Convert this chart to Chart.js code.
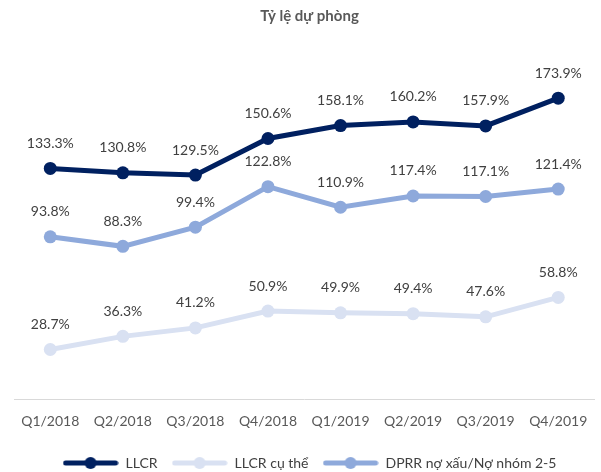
<!DOCTYPE html>
<html>
<head>
<meta charset="utf-8">
<script src="https://cdn.jsdelivr.net/npm/chart.js@4"></script>
<style>
  html, body { margin: 0; padding: 0; background: #fff; }
  #wrap { width: 601px; height: 472px; }
</style>
</head>
<body>
<div id="wrap"><canvas id="c" width="601" height="472"></canvas></div>
<script>
// Dữ liệu
const quarters = ["Q1/2018", "Q2/2018", "Q3/2018", "Q4/2018", "Q1/2019", "Q2/2019", "Q3/2019", "Q4/2019"];
const llcr = [133.3, 130.8, 129.5, 150.6, 158.1, 160.2, 157.9, 173.9];
const llcrCuThe = [28.7, 36.3, 41.2, 50.9, 49.9, 49.4, 47.6, 58.8];
const dprr = [93.8, 88.3, 99.4, 122.8, 110.9, 117.4, 117.1, 121.4];

const FONT = "Lato, 'Noto Sans', sans-serif";

// Ký hiệu chú giải: đường kẻ + chấm tròn
function legendIcon(color) {
  const c = document.createElement("canvas");
  c.width = 56; c.height = 14;
  const g = c.getContext("2d");
  g.strokeStyle = color; g.lineWidth = 5; g.lineCap = "round";
  g.beginPath(); g.moveTo(3, 7); g.lineTo(53, 7); g.stroke();
  g.fillStyle = color;
  g.beginPath(); g.arc(28, 7, 6, 0, Math.PI * 2); g.fill();
  return c;
}

// Nhãn giá trị phía trên mỗi điểm
const valueLabels = {
  id: "valueLabels",
  afterDatasetsDraw(chart) {
    const ctx = chart.ctx;
    ctx.save();
    ctx.font = "14px " + FONT;
    ctx.fillStyle = "#404040";
    ctx.textAlign = "center";
    ctx.textBaseline = "bottom";
    chart.data.datasets.forEach((ds, i) => {
      chart.getDatasetMeta(i).data.forEach((pt, j) => {
        ctx.fillText(ds.data[j].toFixed(1) + "%", pt.x, pt.y - 18);
      });
    });
    ctx.restore();
  }
};

const series = [
  { label: "LLCR", data: llcr, color: "#002060" },
  { label: "LLCR cụ thể", data: llcrCuThe, color: "#D9E1F2" },
  { label: "DPRR nợ xấu/Nợ nhóm 2-5", data: dprr, color: "#8EA9DB" }
];

new Chart(document.getElementById("c"), {
  type: "line",
  data: {
    labels: quarters,
    datasets: series.map((s) => ({
      label: s.label,
      data: s.data,
      borderColor: s.color,
      backgroundColor: s.color,
      borderWidth: 5,
      pointStyle: "circle",
      pointRadius: 6.5,
      pointBackgroundColor: s.color,
      pointBorderWidth: 0,
      tension: 0
    }))
  },
  options: {
    responsive: false,
    animation: false,
    layout: { padding: { left: 14, right: -4, top: 0, bottom: -8 } },
    plugins: {
      title: {
        display: true,
        text: "Tỷ lệ dự phòng",
        color: "#595959",
        font: { family: FONT, size: 15, weight: "bold" },
        padding: { top: 7, bottom: 28 }
      },
      legend: {
        position: "bottom",
        labels: {
          usePointStyle: true,
          pointStyleWidth: 56,
          color: "#404040",
          font: { family: FONT, size: 14 },
          padding: 14,
          generateLabels(chart) {
            return chart.data.datasets.map((ds, i) => ({
              text: ds.label,
              fillStyle: ds.borderColor,
              strokeStyle: ds.borderColor,
              lineWidth: 0,
              pointStyle: legendIcon(ds.borderColor),
              hidden: false,
              datasetIndex: i,
              fontColor: "#404040"
            }));
          }
        }
      },
      tooltip: { enabled: false }
    },
    scales: {
      y: { display: false, min: 0, max: 200 },
      x: {
        offset: true,
        grid: { display: false },
        border: { display: true, color: "#D9D9D9", width: 1 },
        ticks: { color: "#595959", font: { family: FONT, size: 14 }, padding: 6, maxRotation: 0 },
        afterFit(scale) { scale.height += 6; }
      }
    }
  },
  plugins: [valueLabels]
});
</script>
</body>
</html>
